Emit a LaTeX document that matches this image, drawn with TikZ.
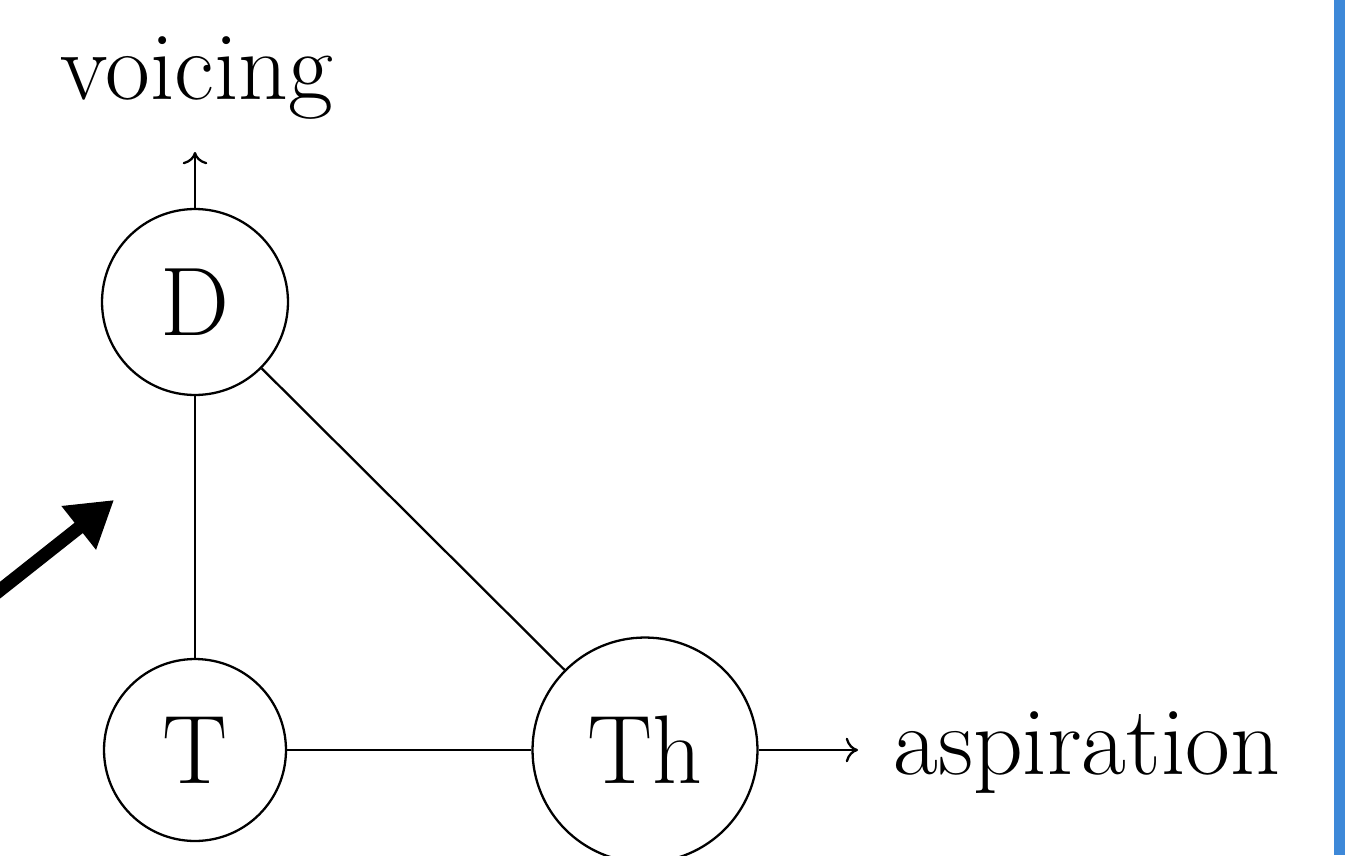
\documentclass[tikz,border=0pt]{standalone}
\usetikzlibrary{arrows.meta}
\definecolor{barblue}{HTML}{3D88D8}
\begin{document}
\begin{tikzpicture}[x=0.02cm,y=-0.02cm,
  every node/.style={font=\fontsize{55.5}{64}\selectfont},
  state/.style={draw,circle,line width=1.3pt,inner sep=0pt},
  edge/.style={line width=1.3pt},
  feat/.style={line width=1.3pt,-{To[length=7pt,width=14pt]}},
  big/.style={line width=7.5pt,-{Triangle[length=0.9cm,width=1.05cm]}}]
\useasboundingbox (0,0) rectangle (1345,855);
% side bar
\fill[barblue] (1334,0) rectangle (1345,855);
% states
\node[state,minimum size=3.72cm] (D) at (195,302) {D};
\node[state,minimum size=3.64cm] (T) at (195,750) {T};
\node[state,minimum size=4.5cm] (Th) at (645,750) {Th};
% connections
\draw[edge] (D) -- (T);
\draw[edge] (D) -- (Th);
\draw[edge] (T) -- (Th);
% features
\coordinate (vtip) at (195,152);
\coordinate (atip) at (858,750);
\draw[feat] (D) -- (vtip);
\draw[feat] (Th) -- (atip);
\node[anchor=base] (voicing) at (197,100) {voicing};
\node[anchor=base west,inner sep=0pt] (asp) at (893,774) {aspiration};
% pointer
\coordinate (ps) at (-20,606);
\coordinate (pe) at (114,500);
\draw[big] (ps) -- (pe);
\end{tikzpicture}
\end{document}
